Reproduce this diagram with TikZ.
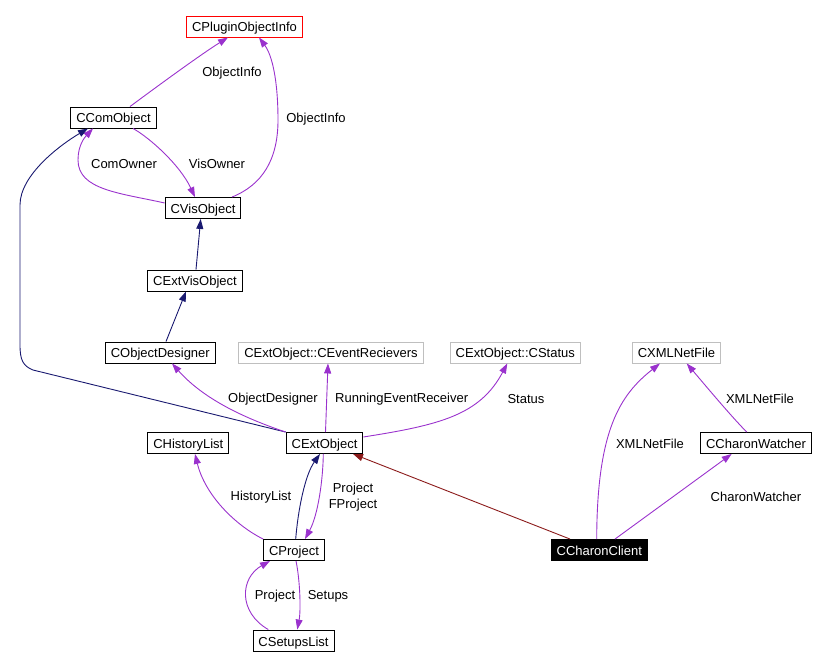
\documentclass[tikz,border=0pt]{standalone}
\usepackage{fontspec}
\setmainfont{Liberation Sans}
\usetikzlibrary{arrows.meta}
\definecolor{usecol}{RGB}{154,50,205}
\definecolor{inhcol}{RGB}{25,25,112}
\definecolor{protcol}{RGB}{139,26,26}
\definecolor{undoc}{RGB}{191,191,191}
\tikzset{
  cls/.style={draw, line width=0.9pt, minimum height=21pt, inner xsep=5.5pt, inner ysep=0pt,
    text height=11pt, text depth=0pt, font=\fontsize{13}{15}\selectfont},
  ext/.style={cls, draw=undoc},
  use/.style={draw=usecol, line width=0.9pt, -{Triangle[length=10pt,width=7pt]}},
  inh/.style={draw=inhcol, line width=0.9pt, -{Triangle[length=10pt,width=7pt]}},
  prot/.style={draw=protcol, line width=0.9pt, -{Triangle[length=10pt,width=7pt]}},
  lbl/.style={font=\fontsize{13}{16}\selectfont, inner sep=0pt, align=center}
}
\begin{document}
\begin{tikzpicture}[x=1pt, y=-1pt]
      \useasboundingbox (0,0) rectangle (817,668);
      % classes
      \node[cls, draw=red] (plugin) at (244.5,26.5) {CPluginObjectInfo};
      \node[cls] (com) at (113.5,117.5) {CComObject};
      \node[cls] (vis) at (203,208) {CVisObject};
      \node[cls] (extvis) at (195,280.5) {CExtVisObject};
      \node[cls] (designer) at (160.3,352.5) {CObjectDesigner};
      \node[ext] (recv) at (331,352.5) {CExtObject::CEventRecievers};
      \node[ext] (status) at (515.3,352.5) {CExtObject::CStatus};
      \node[ext] (xml) at (676.5,352.5) {CXMLNetFile};
      \node[cls] (history) at (188.3,443) {CHistoryList};
      \node[cls] (extobj) at (324.5,443) {CExtObject};
      \node[cls] (watcher) at (756,443) {CCharonWatcher};
      \node[cls] (project) at (294,550) {CProject};
      \node[cls, fill=black, text=white] (client) at (599.3,550) {CCharonClient};
      \node[cls] (setups) at (293.5,640.5) {CSetupsList};

      % upper part
      \draw[use] ([xshift=16.5pt]com.north) .. controls (155,88) and (200,55) .. ([xshift=-16.5pt]plugin.south);
      \draw[use] ([xshift=29pt]vis.north) .. controls (262,185) and (278,160) .. (278,120)
        .. controls (278,80) and (272,55) .. ([xshift=14.5pt]plugin.south);
      \draw[use] ([yshift=5pt]vis.west) .. controls (120,193) and (78,190) .. (78,160)
        .. controls (78,145) and (85,137) .. ([xshift=-20.5pt]com.south);
      \draw[use] ([xshift=19.5pt]com.south) .. controls (150,138) and (180,165) .. ([xshift=-8pt]vis.north);
      \draw[inh] ([xshift=1pt]extvis.north) -- ([xshift=-2.3pt]vis.south);
      \draw[inh] ([xshift=5.7pt]designer.north) -- ([xshift=-9pt]extvis.south);
      \draw[inh] (extobj.north west) -- (33,370) .. controls (23,366) and (20,360) .. (20,345)
        -- (20,205) .. controls (20,175) and (60,145) .. ([xshift=-25.5pt]com.south);
      \node[lbl] (l1) at (232,73) {ObjectInfo};
      \node[lbl] (l2) at (316,118.7) {ObjectInfo};
      \node[lbl] (l3) at (124,164) {ComOwner};
      \node[lbl] (l4) at (217,164) {VisOwner};

      % around CExtObject
      \draw[use] (extobj.north west) .. controls (235,415) and (200,395) .. ([xshift=11.7pt]designer.south);
      \draw[use] ([xshift=1pt]extobj.north) -- ([xshift=-3pt]recv.south);
      \draw[use] ([yshift=6pt]extobj.east) .. controls (440,425) and (480,415) .. ([xshift=-8pt]status.south);
      \draw[use] (project.north west) .. controls (235,525) and (205,495) .. ([xshift=6.7pt]history.south);
      \draw[inh] ([xshift=1.7pt]project.north) .. controls (298,510) and (305,475) .. ([xshift=-4.5pt]extobj.south);
      \draw[use] ([xshift=-1.2pt]extobj.south) .. controls (323,480) and (318,515) .. ([xshift=11pt]project.north);
      \draw[prot] ([xshift=-29.3pt]client.north) -- ([xshift=28.5pt]extobj.south);
      \node[lbl] (l5) at (273,399) {ObjectDesigner};
      \node[lbl] (l6) at (401.7,399) {RunningEventReceiver};
      \node[lbl] (l7) at (526,399) {Status};
      \node[lbl] (l8) at (261,496.7) {HistoryList};
      \node[lbl] (l9) at (353,497) {Project\\FProject};

      % right part
      \draw[use] ([xshift=-2.6pt]client.north) .. controls (597,430) and (620,395) .. ([xshift=-16.5pt]xml.south);
      \draw[use] ([xshift=15.7pt]client.north) -- ([xshift=-24.3pt]watcher.south);
      \draw[use] ([xshift=-9.3pt]watcher.north) .. controls (730,415) and (705,385) .. ([xshift=10.2pt]xml.south);
      \node[lbl] (l10) at (760,399) {XMLNetFile};
      \node[lbl] (l11) at (650,444) {XMLNetFile};
      \node[lbl] (l12) at (756,496.7) {CharonWatcher};

      % bottom
      \draw[use] ([xshift=2pt]project.south) .. controls (300,580) and (301,610) .. ([xshift=3.8pt]setups.north);
      \draw[use] ([xshift=-25.2pt]setups.north) .. controls (238,612) and (240,578) .. ([xshift=-24pt]project.south);
      \node[lbl] (l13) at (275,595.7) {Project};
      \node[lbl] (l14) at (328,596) {Setups};
    \end{tikzpicture}
\end{document}
